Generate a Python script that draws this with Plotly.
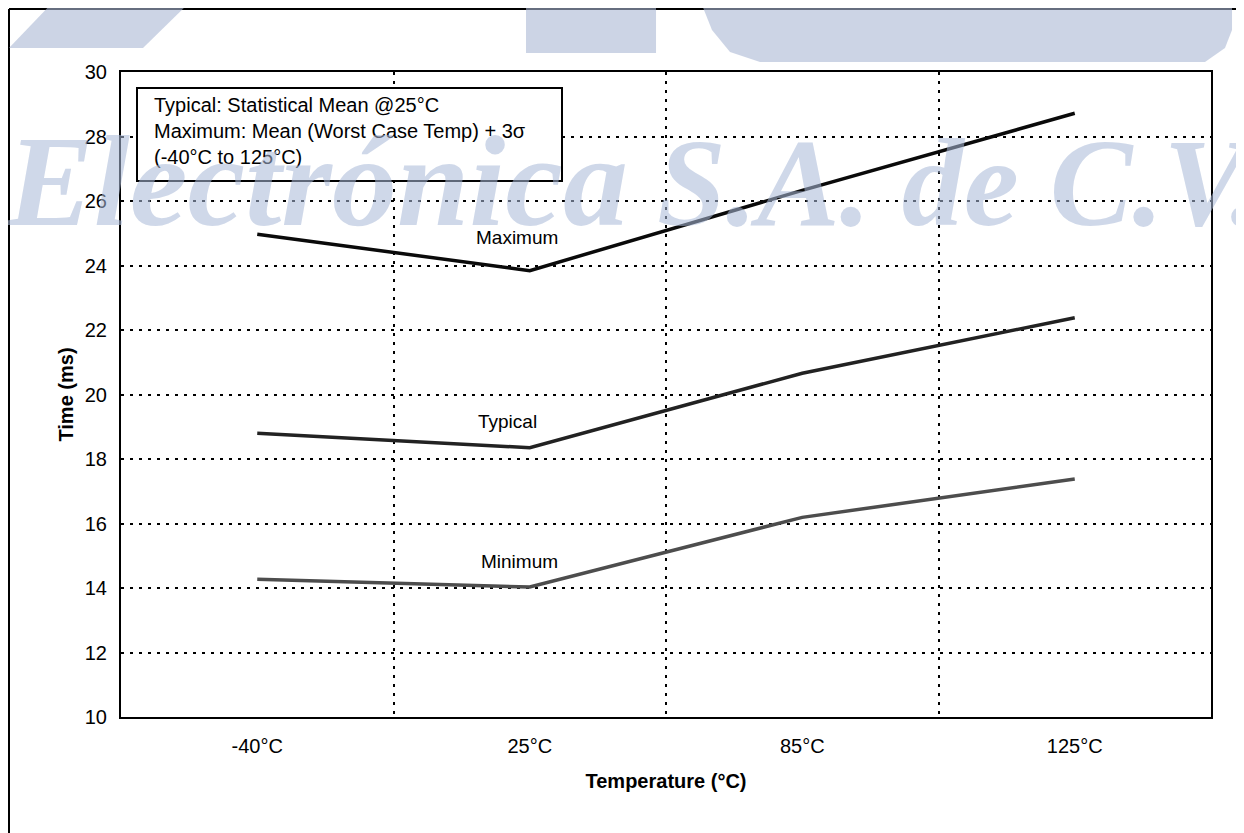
import plotly.graph_objects as go

# =========================
# DATA
# =========================

temps = ["-40°C", "25°C", "85°C", "125°C"]

t_max = [24.97, 23.84, 26.33, 28.72]
t_typ = [18.80, 18.35, 20.66, 22.38]
t_min = [14.27, 14.03, 16.19, 17.38]

y_ticks = [10, 12, 14, 16, 18, 20, 22, 24, 26, 28, 30]

note_lines = [
    "Typical: Statistical Mean @25°C",
    "Maximum: Mean (Worst Case Temp) + 3σ",
    "(-40°C to 125°C)",
]

watermark = ["Electrónica", "S.A. de C.V."]

# =========================
# LAYOUT HELPERS
# =========================

# page puts the plot div 8px in from the corner, so size the figure to match
OFF = 8
W, H = 1244, 833
L, R, T, B = 121, 1211, 72, 717
FONT = "Arial, Liberation Sans, sans-serif"
SERIF = "Liberation Serif, Times New Roman, serif"
LOGO = "rgba(170,183,212,0.6)"
WM = "rgba(170,185,215,0.56)"


def px(x):
    return (x - L) / (R - L)


def py(y):
    return (B - y) / (B - T)


def path(points):
    return "M " + " L ".join(f"{px(x):.5f},{py(y):.5f}" for x, y in points) + " Z"


# =========================
# FIGURE
# =========================

fig = go.Figure()

fig.add_trace(go.Scatter(x=temps, y=t_max, mode="lines", name="Maximum",
                         line=dict(color="#0a0a0a", width=3.5)))
fig.add_trace(go.Scatter(x=temps, y=t_typ, mode="lines", name="Typical",
                         line=dict(color="#222222", width=3.5)))
fig.add_trace(go.Scatter(x=temps, y=t_min, mode="lines", name="Minimum",
                         line=dict(color="#4d4d4d", width=3.5)))

shapes = [
    # outer frame (left + top)
    dict(type="line", xref="paper", yref="paper", x0=px(9), x1=px(9), y0=py(9), y1=py(H + 5),
         line=dict(color="black", width=2)),
    dict(type="line", xref="paper", yref="paper", x0=px(9), x1=px(W + 5), y0=py(9), y1=py(9),
         line=dict(color="black", width=2)),
    # note box
    dict(type="rect", xref="paper", yref="paper", x0=px(137), x1=px(562), y0=py(181), y1=py(88),
         fillcolor="white", line=dict(color="black", width=2), layer="above"),
    # logo fragments at top
    dict(type="path", xref="paper", yref="paper", path=path([(55, 0), (192, 0), (143, 48), (9, 48)]),
         fillcolor=LOGO, line=dict(width=0), layer="above"),
    dict(type="path", xref="paper", yref="paper", path=path([(526, 0), (656, 0), (656, 53), (526, 53)]),
         fillcolor=LOGO, line=dict(width=0), layer="above"),
    dict(type="path", xref="paper", yref="paper",
         path=path([(700, 0), (1232, 0), (1232, 30), (1225, 48), (1205, 62), (760, 62),
                    (730, 52), (712, 30)]),
         fillcolor=LOGO, line=dict(width=0), layer="above"),
]

annotations = [
    dict(xref="paper", yref="paper", x=px(152), y=py(131.5), xanchor="left", yanchor="middle",
         text="<br>".join(note_lines), showarrow=False, align="left",
         font=dict(family=FONT, size=20, color="black")),
    dict(xref="x", yref="y", x=0.953, y=24.88, text="Maximum", showarrow=False,
         font=dict(family=FONT, size=19, color="black")),
    dict(xref="x", yref="y", x=0.917, y=19.15, text="Typical", showarrow=False,
         font=dict(family=FONT, size=19, color="black")),
    dict(xref="x", yref="y", x=0.964, y=14.81, text="Minimum", showarrow=False,
         font=dict(family=FONT, size=19, color="black")),
    # watermark, two parts
    dict(xref="paper", yref="paper", x=px(4), y=py(227), xanchor="left", yanchor="bottom",
         text=watermark[0], showarrow=False, yshift=-28,
         font=dict(family=SERIF, size=130, color=WM, weight="bold", style="italic")),
    dict(xref="paper", yref="paper", x=px(655), y=py(227), xanchor="left", yanchor="bottom",
         text=watermark[1], showarrow=False, yshift=-27,
         font=dict(family=SERIF, size=124, color=WM, weight="bold", style="italic")),
]

fig.update_layout(
    width=W - OFF, height=H - OFF,
    margin=dict(l=L - OFF, r=W - R, t=T - OFF, b=H - B),
    paper_bgcolor="white",
    plot_bgcolor="white",
    showlegend=False,
    font=dict(family=FONT, size=20, color="black"),
    shapes=shapes,
    annotations=annotations,
)

fig.update_xaxes(
    type="category",
    range=[-0.5, 3.5],
    tickson="boundaries",
    ticks="",
    showgrid=True, gridcolor="black", gridwidth=2, griddash="3px,6px",
    showline=True, linecolor="black", linewidth=2, mirror=True,
    zeroline=False,
    ticklabelstandoff=10,
    tickfont=dict(family=FONT, size=20, color="black"),
    title=dict(text="<b>Temperature (°C)</b>", standoff=18,
               font=dict(family=FONT, size=20, color="black")),
)

fig.update_yaxes(
    range=[10, 30],
    tickvals=y_ticks,
    ticks="",
    showgrid=True, gridcolor="black", gridwidth=2, griddash="3px,6px",
    showline=True, linecolor="black", linewidth=2, mirror=True,
    zeroline=False,
    ticklabelstandoff=8,
    tickfont=dict(family=FONT, size=20, color="black"),
    title=dict(text="<b>Time (ms)</b>", standoff=6,
               font=dict(family=FONT, size=20, color="black")),
)

fig.write_html("out.html")
